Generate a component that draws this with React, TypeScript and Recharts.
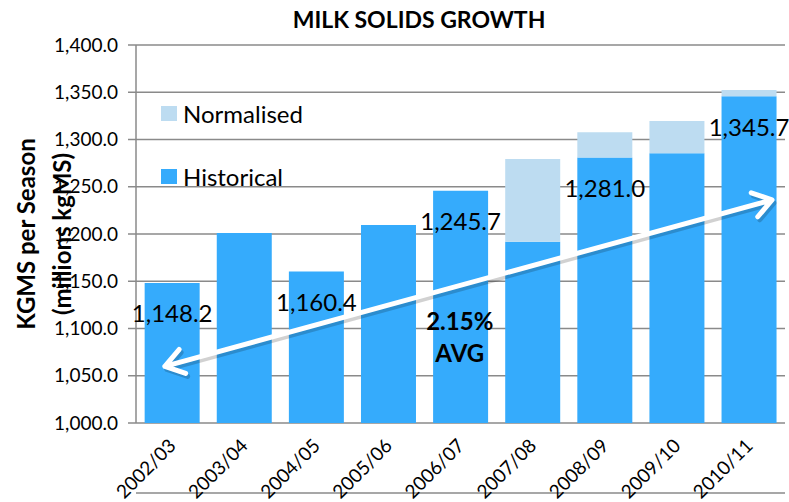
import React from "react";
import {
	Bar,
	BarChart,
	CartesianGrid,
	LabelList,
	Legend,
	ReferenceDot,
	ReferenceLine,
	XAxis,
	YAxis,
} from "recharts";

const seasons = [
	"2002/03",
	"2003/04",
	"2004/05",
	"2005/06",
	"2006/07",
	"2007/08",
	"2008/09",
	"2009/10",
	"2010/11",
];
const historical = [
	1148.2, 1201.0, 1160.4, 1209.5, 1245.7, 1191.7, 1281.0, 1285.4, 1345.7,
];
// extra amount on top of the historical value
const normalisedExtra = [0, 0, 0, 0, 0, 87.7, 26.6, 34.3, 6.7];
const shownLabels = [1148.2, null, 1160.4, null, 1245.7, null, 1281.0, null, 1345.7];
const yTicks = [1000, 1050, 1100, 1150, 1200, 1250, 1300, 1350, 1400];
const bandEdges = [0, 1, 2, 3, 4, 5, 6, 7, 8, 9];
const trendArrow = [
	{ x: 0.4, y: 1060 },
	{ x: 8.82, y: 1236 },
];
const avgNote = { x: 4.49, y: 1092, lines: ["2.15%", "AVG"] };

const HIST = "#35abfc";
const NORM = "#bddcf1";
const GRID = "#8a8a8a";
const FONT = "Lato, 'Open Sans', sans-serif";

const data = seasons.map((season, i) => ({
	season,
	slot: i + 0.5,
	historical: historical[i],
	normalised: normalisedExtra[i],
	shown: shownLabels[i],
}));

const fmt = (v: number) =>
	v.toLocaleString("en-US", { minimumFractionDigits: 1, maximumFractionDigits: 1 });

function chevron(tx: number, ty: number, ang: number) {
	const len = 22;
	const spread = 0.6;
	const a1 = ang + Math.PI - spread;
	const a2 = ang + Math.PI + spread;
	return `M${tx + len * Math.cos(a1)},${ty + len * Math.sin(a1)} L${tx},${ty} L${tx + len * Math.cos(a2)},${ty + len * Math.sin(a2)}`;
}

function ArrowShape(props: any) {
	const { x1, y1, x2, y2 } = props;
	if (x1 == null) return null;
	const ang = Math.atan2(y2 - y1, x2 - x1);
	const d = `M${x1},${y1} L${x2},${y2} ${chevron(x2, y2, ang)} ${chevron(x1, y1, ang + Math.PI)}`;
	return (
		<g>
			<path
				d={d}
				transform="translate(2,3)"
				fill="none"
				stroke="rgba(0,0,0,0.18)"
				strokeWidth={5}
				strokeLinecap="round"
				strokeLinejoin="round"
			/>
			<path
				d={d}
				fill="none"
				stroke="#fff"
				strokeWidth={5}
				strokeLinecap="round"
				strokeLinejoin="round"
			/>
		</g>
	);
}

function SeasonTick({ x, y, payload }: any) {
	return (
		<text
			x={x + 5}
			y={y + 16}
			transform={`rotate(-45, ${x + 5}, ${y + 16})`}
			textAnchor="end"
			fontSize={19}
			fontFamily={FONT}
			fill="#000"
		>
			{payload.value}
		</text>
	);
}

function ValueLabel({ x, y, width, value }: any) {
	if (value == null) return null;
	return (
		<text
			x={x + width / 2}
			y={y + 30}
			textAnchor="middle"
			dominantBaseline="central"
			fontSize={24}
			fontFamily={FONT}
			fill="#000"
		>
			{fmt(value)}
		</text>
	);
}

function YTitle({ viewBox }: any) {
	const cy = viewBox.y + viewBox.height / 2;
	return (
		<g fontFamily={FONT} fontWeight={700} fontSize={24} fill="#000">
			<text x={25} y={cy} transform={`rotate(-90, 25, ${cy})`} textAnchor="middle" dominantBaseline="central">
				KGMS per Season
			</text>
			<text x={61} y={cy} transform={`rotate(-90, 61, ${cy})`} textAnchor="middle" dominantBaseline="central">
				(millions kgMS)
			</text>
		</g>
	);
}

function AvgNote({ viewBox }: any) {
	const cx = viewBox.x + (viewBox.width || 0) / 2;
	const cy = viewBox.y + (viewBox.height || 0) / 2;
	return (
		<g fontFamily={FONT} fontWeight={700} fontSize={24} fill="#000">
			{avgNote.lines.map((t, i) => (
				<text key={t} x={cx} y={cy + (i - 0.5) * 32} textAnchor="middle" dominantBaseline="central">
					{t}
				</text>
			))}
		</g>
	);
}

function LegendBox({ payload }: any) {
	const items = [...(payload || [])].reverse();
	return (
		<div style={{ fontFamily: FONT, fontSize: 24 }}>
			{items.map((it: any) => (
				<div key={it.value} style={{ display: "flex", alignItems: "center", height: 30, marginBottom: 33 }}>
					<span style={{ width: 16, height: 15, background: it.color, marginRight: 6 }} />
					<span>{it.value}</span>
				</div>
			))}
		</div>
	);
}

export default function App() {
	return (
		<div style={{ position: "absolute", left: 0, top: 0, width: 789, height: 502, background: "#fff" }}>
			<div
				style={{
					position: "absolute",
					left: 50,
					width: 738,
					top: 8,
					textAlign: "center",
					fontFamily: FONT,
					fontWeight: 700,
					fontSize: 23,
					lineHeight: "23px",
				}}
			>
				MILK SOLIDS GROWTH
			</div>
			<BarChart
				width={789}
				height={502}
				data={data}
				barCategoryGap="12%"
				margin={{ top: 45, right: 4, left: 0, bottom: 8 }}
			>
				<CartesianGrid vertical={false} stroke={GRID} strokeWidth={1.5} />
				<XAxis
					xAxisId="edges"
					dataKey="slot"
					type="number"
					domain={[0, 9]}
					allowDataOverflow
					ticks={bandEdges}
					height={1}
					tick={false}
					tickSize={8}
					tickLine={{ stroke: GRID, strokeWidth: 1.5 }}
					axisLine={{ stroke: GRID, strokeWidth: 1.5 }}
				/>
				<XAxis
					dataKey="season"
					height={70}
					interval={0}
					axisLine={false}
					tickLine={false}
					tick={<SeasonTick />}
				/>
				<YAxis
					width={136}
					domain={[1000, 1400]}
					ticks={yTicks}
					allowDataOverflow
					tickFormatter={fmt}
					tickSize={8}
					tickMargin={10}
					tick={{ fontSize: 19, fontFamily: FONT, fill: "#000" }}
					tickLine={{ stroke: GRID, strokeWidth: 1.5 }}
					axisLine={{ stroke: GRID, strokeWidth: 1.5 }}
					label={{ content: <YTitle /> }}
				/>
				<Legend
					layout="horizontal"
					verticalAlign="middle"
					align="center"
					content={<LegendBox />}
					wrapperStyle={{ position: "absolute", left: 161, top: 98, width: "auto" }}
				/>
				<Bar
					dataKey="historical"
					name="Historical"
					stackId="a"
					fill={HIST}
					isAnimationActive={false}
				>
					<LabelList dataKey="shown" content={<ValueLabel />} />
				</Bar>
				<Bar
					dataKey="normalised"
					name="Normalised"
					stackId="a"
					fill={NORM}
					isAnimationActive={false}
				/>
				<ReferenceLine
					xAxisId="edges"
					segment={trendArrow}
					ifOverflow="visible"
					zIndex={1500}
					shape={<ArrowShape />}
				/>
				<ReferenceDot
					xAxisId="edges"
					x={avgNote.x}
					y={avgNote.y}
					r={0}
					fill="none"
					stroke="none"
					label={{ content: <AvgNote /> }}
				/>
			</BarChart>
		</div>
	);
}
